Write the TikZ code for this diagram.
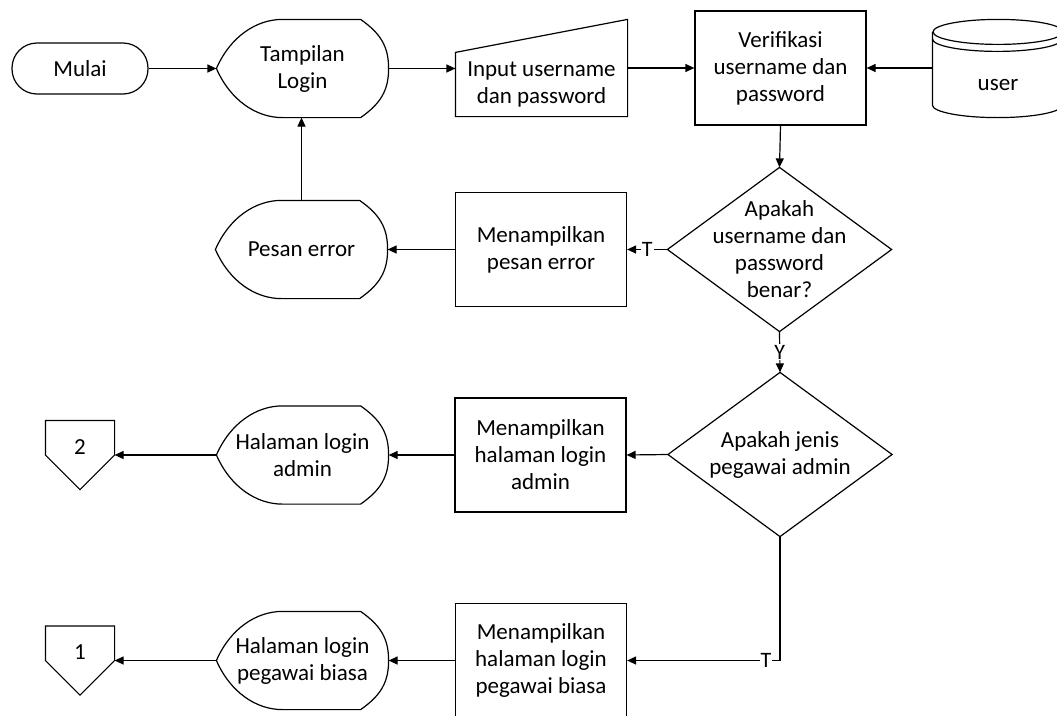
\documentclass[tikz,border=0pt]{standalone}
\usepackage{fontspec}
\setmainfont{Carlito}
\usetikzlibrary{arrows.meta,calc}

\tikzset{
  txt/.style={font=\fontsize{23pt}{27pt}\selectfont, align=center, inner sep=0pt},
  proc/.style={txt, draw, rectangle, minimum width=171pt, minimum height=114pt},
  term/.style={txt, draw, rectangle, rounded corners=25pt, minimum width=136pt, minimum height=51pt},
  disp/.style={txt, rectangle, minimum width=171pt, minimum height=97pt},
  dec/.style={txt, rectangle, minimum width=223pt, minimum height=163pt},
  manin/.style={txt, rectangle, minimum width=171pt, minimum height=63pt},
  dbase/.style={txt, rectangle, minimum width=130pt, minimum height=65pt},
  offpg/.style={txt, rectangle, minimum width=68pt, minimum height=68pt, text height=14pt, text depth=16pt},
  arr/.style={-{Triangle[length=9pt,width=8pt]}},
  lbl/.style={fill=white, inner sep=1pt, font=\fontsize{22pt}{26pt}\selectfont}
}

\newcommand\dispoutline[1]{%
  \draw (#1.west) .. controls ($(#1.west)+(14,-32)$) and ($(#1.north west)+(40,0)$) .. ($(#1.north west)+(66,0)$)
    -- ($(#1.north east)+(-28,0)$) .. controls ($(#1.north east)+(-8,14)$) and ($(#1.east)+(0,-22)$) .. (#1.east)
    .. controls ($(#1.east)+(0,22)$) and ($(#1.south east)+(-8,-14)$) .. ($(#1.south east)+(-28,0)$)
    -- ($(#1.south west)+(66,0)$) .. controls ($(#1.south west)+(40,0)$) and ($(#1.west)+(14,32)$) .. cycle;}
\newcommand\diaoutline[1]{\draw (#1.north) -- (#1.east) -- (#1.south) -- (#1.west) -- cycle;}
\newcommand\offoutline[1]{\draw (#1.north west) -- (#1.north east) -- (#1.east) -- (#1.south) -- (#1.west) -- cycle;}
\newcommand\maninoutline[1]{\draw (#1.north west) -- ($(#1.north east)+(0,-33)$) -- (#1.south east) -- (#1.south west) -- cycle;}
\newcommand\dboutline[1]{%
  \draw ($(#1.north)+(0,-19.5)$) ellipse [x radius=65pt, y radius=12.5pt];
  \draw ($(#1.north west)+(0,-12.5)$) arc [start angle=180, end angle=360, x radius=65pt, y radius=12.5pt];
  \draw ($(#1.north west)+(0,-19.5)$) -- ($(#1.south west)+(0,-12.5)$)
        arc [start angle=180, end angle=360, x radius=65pt, y radius=12.5pt]
        -- ($(#1.north east)+(0,-19.5)$);}

\begin{document}
\begin{tikzpicture}[x=1pt, y=-1pt, line width=1.2pt]
\useasboundingbox (0,0) rectangle (1057,715);
\clip (0,0) rectangle (1057,715);

% nodes
\node[term] (mulai) at (80,68.5) {Mulai};
\node[disp] (tamp) at (302.5,68.5) {Tampilan\\Login};
\node[manin] (inp) at (541.5,84.5) {Input username\\dan password};
\node[proc] (verif) at (780.5,68) {Verifikasi\\username dan\\password};
\node[dbase] (user) at (998,84.5) {user};
\node[dec] (d1) at (779.5,249.5) {Apakah\\username dan\\password\\benar?};
\node[proc] (msgerr) at (541,249.5) {Menampilkan\\pesan error};
\node[disp] (pesan) at (301.5,249.5) {Pesan error};
\node[dec] (d2) at (780,454.5) {Apakah jenis\\pegawai admin};
\node[proc] (admbox) at (540.5,455) {Menampilkan\\halaman login\\admin};
\node[disp] (hadm) at (302.5,455) {Halaman login\\admin};
\node[offpg] (c2) at (80,455) {2};
\node[proc] (biabox) at (541,660.5) {Menampilkan\\halaman login\\pegawai biasa};
\node[disp] (hbia) at (302.5,660.5) {Halaman login\\pegawai biasa};
\node[offpg] (c1) at (80,660.5) {1};

% outlines
\dispoutline{tamp}
\dispoutline{pesan}
\dispoutline{hadm}
\dispoutline{hbia}
\diaoutline{d1}
\diaoutline{d2}
\offoutline{c1}
\offoutline{c2}
\maninoutline{inp}
\dboutline{user}

% connectors
\draw[arr] (mulai.east) -- (tamp.west);
\draw[arr] (tamp.east) -- (tamp.east -| inp.west);
\draw[arr] (verif.west -| inp.east) -- (verif.west);
\draw[arr] (verif.east -| user.west) -- (verif.east);
\draw[arr] (verif.south) -- (d1.north);
\draw[arr] (d1.west) -- node[lbl]{T} (msgerr.east);
\draw[arr] (msgerr.west) -- (pesan.east);
\draw[arr] (pesan.north) -- (pesan.north |- tamp.south);
\draw[arr] (d1.south) -- node[lbl]{Y} (d2.north);
\draw[arr] (d2.west) -- (admbox.east);
\draw[arr] (admbox.west) -- (hadm.east);
\draw[arr] (hadm.west) -- (c2.east);
\draw[arr] (d2.south) |- node[lbl, pos=0.546]{T} (biabox.east);
\draw[arr] (biabox.west) -- (hbia.east);
\draw[arr] (hbia.west) -- (c1.east);
\end{tikzpicture}
\end{document}
